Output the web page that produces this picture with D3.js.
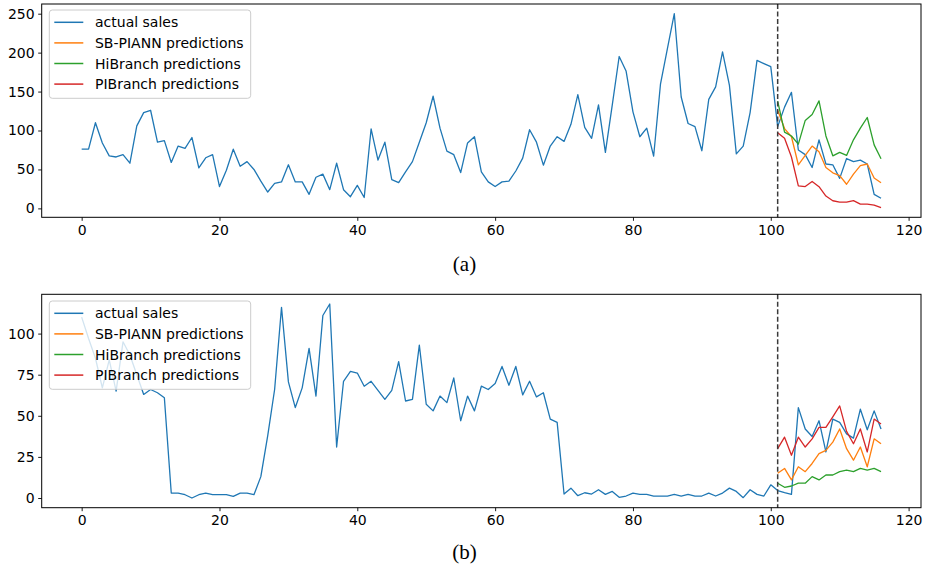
<!DOCTYPE html>
<html>
<head>
<meta charset="utf-8">
<script src="https://cdn.jsdelivr.net/npm/d3@7"></script>
<style>
  html, body { margin: 0; padding: 0; background: #fff; }
  svg { display: block; }
  .tick text { font-family: "DejaVu Sans", sans-serif; font-size: 14px; fill: #000; }
  .tick line { stroke: #000; stroke-width: 0.9; }
</style>
</head>
<body>
<div id="chart"></div>
<script>
var xTicks = [0, 20, 40, 60, 80, 100, 120];
var yTicksA = [0, 50, 100, 150, 200, 250];
var yTicksB = [0, 25, 50, 75, 100];
var seriesNames = ['actual sales', 'SB-PIANN predictions', 'HiBranch predictions', 'PIBranch predictions'];
var seriesColors = ['#1f77b4', '#ff7f0e', '#2ca02c', '#d62728'];
var splitAt = 101;

// panel (a)
var actualA = [76, 76, 110, 84, 67.5, 66, 69, 58, 106, 123, 126, 85, 87, 59, 80, 77, 91, 52, 65, 69,
  28, 49, 76, 54, 60, 50, 35, 21, 32, 34, 56, 34, 34, 18, 40, 44, 24, 58, 24, 15,
  29.5, 14, 102, 62, 85, 37, 33, 47, 60, 85, 110, 144, 103, 73.5, 69, 46, 84, 92, 47, 34,
  28, 34, 35, 48, 64.5, 101, 85, 55.5, 80, 92, 86, 108, 146, 104, 90, 133, 72, 133, 195, 176.5,
  124, 92, 103, 67, 160, 205, 250, 143, 109, 105, 74, 140, 156, 201, 158, 70, 80, 123, 190, 186,
  182, 105, 130, 149, 75, 69, 52.5, 88, 57, 56, 38.5, 64, 60, 62, 57, 18, 13];
var sbpiannA = [126, 102.5, 92, 56, 68, 80, 72.6, 52.5, 45.7, 42, 31, 44, 55, 57, 39, 33];
var hibranchA = [137.6, 98, 93, 82.5, 113, 120.5, 138, 93, 67.5, 72, 68, 88, 103, 116.7, 81.6, 63.7];
var pibranchA = [97, 90, 66, 29, 28, 34.6, 27.8, 15.8, 9.8, 8, 8, 10, 5.5, 5.5, 4.3, 1];

// panel (b)
var actualB = [110, 97, 85, 67, 84, 65, 95, 87, 75, 63, 66, 64, 61, 3, 3, 2, 0, 2, 3, 2,
  2, 2, 1, 3, 3, 2, 13, 38, 66, 116, 70.6, 55, 67, 91, 62, 111, 118, 31, 71, 77,
  76, 68, 71, 65.5, 60, 65.5, 83, 59, 60, 93, 57, 53, 62, 58, 73, 47, 62, 53, 68, 66,
  69.6, 80, 68.6, 80, 62.7, 71, 61.5, 64, 48, 46, 2.4, 6, 1.4, 3.2, 2.4, 5, 2.2, 4, 0.4, 1.2,
  3, 2.2, 2.2, 1.2, 1.2, 1.2, 2.2, 1.2, 2.2, 1.2, 1.2, 3, 1.2, 3, 6, 4, 0.2, 5, 2.2, 1.2,
  8, 4.5, 3.2, 2.2, 55, 42, 37.4, 47, 28, 48, 46, 39, 36.4, 54, 41.5, 53, 42];
var sbpiannB = [15, 18, 11, 19, 16, 21, 27, 29, 34, 42, 30, 23, 31, 19, 36, 33];
var hibranchB = [9, 6.5, 7.3, 9, 9, 13, 11, 14, 14, 16, 17, 16, 18, 17, 18, 16];
var pibranchB = [30, 37, 26, 37, 31, 36, 43, 43, 49.4, 56, 40.5, 33, 42, 28, 48, 45];

(function () {
  'use strict';

  var width = 930, height = 571,
      left = 41.7, right = 921;

  var svg = d3.select('#chart').append('svg')
      .attr('width', width)
      .attr('height', height);

  function toPoints(values, start) {
    return values.map(function (v, i) { return [start + i, v]; });
  }

  function drawPanel(opts) {
    var series = [
      toPoints(opts.actual, 0),
      toPoints(opts.sb, splitAt),
      toPoints(opts.hi, splitAt),
      toPoints(opts.pi, splitAt)
    ];
    var all = [].concat.apply([], series);

    var xExt = d3.extent(all, function (d) { return d[0]; }),
        yExt = d3.extent(all, function (d) { return d[1]; }),
        xPad = (xExt[1] - xExt[0]) * 0.05,
        yPad = (yExt[1] - yExt[0]) * 0.05;

    var x = d3.scaleLinear().domain([xExt[0] - xPad, xExt[1] + xPad]).range([left, right]);
    var y = d3.scaleLinear().domain([yExt[0] - yPad, yExt[1] + yPad]).range([opts.bottom, opts.top]);

    var g = svg.append('g');

    var line = d3.line()
        .x(function (d) { return x(d[0]); })
        .y(function (d) { return y(d[1]); });

    g.selectAll('.series')
        .data(series)
        .enter()
        .append('path')
        .attr('class', 'series')
        .attr('d', line)
        .attr('fill', 'none')
        .attr('stroke', function (d, i) { return seriesColors[i]; })
        .attr('stroke-width', 1.3)
        .attr('stroke-linejoin', 'round');

    g.append('line')
        .attr('x1', x(splitAt)).attr('x2', x(splitAt))
        .attr('y1', opts.top).attr('y2', opts.bottom)
        .attr('stroke', '#3a3a3a')
        .attr('stroke-width', 1.5)
        .attr('stroke-dasharray', '5,2.5');

    var xAxis = g.append('g')
        .attr('transform', 'translate(0,' + opts.bottom + ')')
        .call(d3.axisBottom(x).tickValues(xTicks).tickSize(3.5).tickSizeOuter(0).tickPadding(4));
    var yAxis = g.append('g')
        .attr('transform', 'translate(' + left + ',0)')
        .call(d3.axisLeft(y).tickValues(opts.yTicks).tickSize(3.5).tickSizeOuter(0).tickPadding(3.5));
    xAxis.select('.domain').remove();
    yAxis.select('.domain').remove();

    g.append('rect')
        .attr('x', left).attr('y', opts.top)
        .attr('width', right - left).attr('height', opts.bottom - opts.top)
        .attr('fill', 'none')
        .attr('stroke', '#000')
        .attr('stroke-width', 1);

    // legend
    var lg = g.append('g').attr('transform', 'translate(49.3,' + opts.legendTop + ')');
    lg.append('rect')
        .attr('width', 201.4).attr('height', 88.3)
        .attr('rx', 3).attr('ry', 3)
        .attr('fill', '#fff').attr('fill-opacity', 0.8)
        .attr('stroke', '#cccccc').attr('stroke-width', 1);

    var item = lg.selectAll('.item')
        .data(seriesNames)
        .enter()
        .append('g')
        .attr('class', 'item')
        .attr('transform', function (d, i) { return 'translate(0,' + (12.3 + i * 20.6) + ')'; });
    item.append('line')
        .attr('x1', 5).attr('x2', 34)
        .attr('stroke', function (d, i) { return seriesColors[i]; })
        .attr('stroke-width', 1.5);
    item.append('text')
        .attr('x', 45.7).attr('y', 5)
        .attr('font-family', '"DejaVu Sans", sans-serif')
        .attr('font-size', 14)
        .text(function (d) { return d; });

    svg.append('text')
        .attr('x', 464.5).attr('y', opts.captionY)
        .attr('text-anchor', 'middle')
        .attr('font-family', '"Liberation Serif", "Times New Roman", serif')
        .attr('font-size', 21)
        .text(opts.caption);
  }

  drawPanel({
    actual: actualA, sb: sbpiannA, hi: hibranchA, pi: pibranchA,
    top: 4, bottom: 217.3, yTicks: yTicksA, legendTop: 10,
    caption: '(a)', captionY: 271
  });

  drawPanel({
    actual: actualB, sb: sbpiannB, hi: hibranchB, pi: pibranchB,
    top: 294.3, bottom: 507.7, yTicks: yTicksB, legendTop: 301,
    caption: '(b)', captionY: 559
  });
}());
</script>
</body>
</html>
